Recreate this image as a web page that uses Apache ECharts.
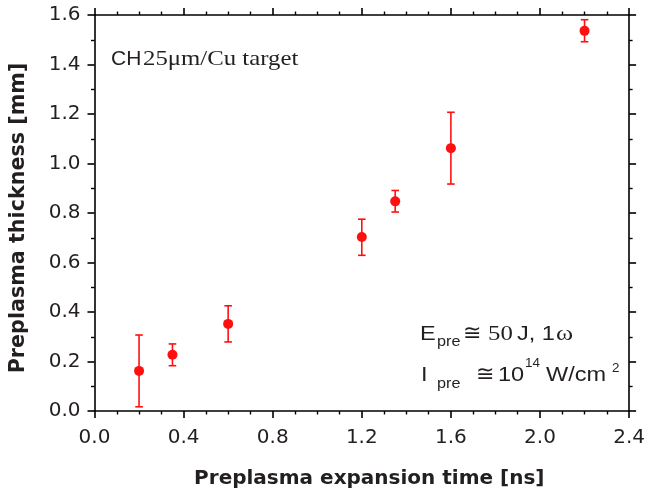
<!DOCTYPE html>
<html><head><meta charset="utf-8">
<script src="https://cdn.jsdelivr.net/npm/echarts@6/dist/echarts.min.js"></script>
<style>html,body{margin:0;padding:0;background:#fff}#c{width:648px;height:494px}</style>
</head><body><div id="c"></div>
<script>
// Data
const times = [0.2, 0.35, 0.6, 1.2, 1.35, 1.6, 2.2];
const thickness = [0.162, 0.227, 0.352, 0.703, 0.847, 1.062, 1.536];
const errLow = [0.017, 0.183, 0.279, 0.629, 0.804, 0.917, 1.492];
const errHigh = [0.307, 0.271, 0.425, 0.775, 0.891, 1.207, 1.581];
const xTicks = ['0.0','0.4','0.8','1.2','1.6','2.0','2.4'];
const yTicks = ['0.0','0.2','0.4','0.6','0.8','1.0','1.2','1.4','1.6'];

const SANS = '"Liberation Sans", Arial, sans-serif';
const SERIF = '"Liberation Serif", "Times New Roman", serif';
const DJ = '"DejaVu Sans", sans-serif';
const TXT = '#231f20';
const RED = '#ff1010';

const chart = echarts.init(document.getElementById('c'), null, {renderer:'canvas'});

const points = times.map((t,i)=>[t, thickness[i]]);
const errs = times.map((t,i)=>[t, errLow[i], errHigh[i]]);

function axisCommon(showLabels, split){
  return {
    axisLine:{show:true, onZero:false, lineStyle:{color:'#000', width:1.6}},
    axisTick:{show:true, inside:false, length:7, lineStyle:{color:'#000', width:1.6}},
    minorTick:{show:true, splitNumber:split, length:3.5, lineStyle:{color:'#000', width:1.4}},
    splitLine:{show:false},
    minorSplitLine:{show:false},
    axisLabel:{show:showLabels}
  };
}

function t(x, baseline, s, size, family, sx){
  return {type:'text', x:x, y:baseline - 0.27*size, scaleX:sx||1, scaleY:1,
    style:{text:s, fill:TXT, fontSize:size, fontFamily:family, verticalAlign:'middle', align:'left'}};
}
const SXS = 1.12, SXR = 1.18;

const option = {
  animation:false,
  backgroundColor:'#fff',
  grid:{left:94.5, right:15, top:15, bottom:82, containLabel:false},
  xAxis:[
    Object.assign(axisCommon(true, 4), {
      type:'value', min:0, max:2.4, interval:0.4, position:'bottom',
      axisLabel:{show:true, color:TXT, fontSize:20, fontFamily:DJ, margin:17,
        formatter:(v)=>{const i=Math.round(v/0.4); return xTicks[i]!==undefined?xTicks[i]:'';}},
      name:'Preplasma expansion time [ns]', nameLocation:'middle', nameGap:58,
      nameTextStyle:{color:TXT, fontSize:20, fontWeight:'bold', fontFamily:DJ, padding:[0,0,0,15]}
    }),
    Object.assign(axisCommon(false, 4), {
      type:'value', min:0, max:2.4, interval:0.4, position:'top'
    })
  ],
  yAxis:[
    Object.assign(axisCommon(true, 2), {
      type:'value', min:0, max:1.6, interval:0.2, position:'left',
      axisLabel:{show:true, color:TXT, fontSize:20, fontFamily:DJ, margin:14,
        formatter:(v)=>{const i=Math.round(v/0.2); return yTicks[i]!==undefined?yTicks[i]:'';}},
      name:'Preplasma thickness [mm]', nameLocation:'middle', nameGap:65, nameRotate:90,
      nameTextStyle:{color:TXT, fontSize:20.7, fontWeight:'bold', fontFamily:DJ, padding:[0,10,0,0]}
    }),
    Object.assign(axisCommon(false, 2), {
      type:'value', min:0, max:1.6, interval:0.2, position:'right'
    })
  ],
  series:[
    {
      type:'custom', xAxisIndex:0, yAxisIndex:0, data:errs, z:3,
      renderItem:function(params, api){
        const x = api.value(0);
        const lo = api.coord([x, api.value(1)]);
        const hi = api.coord([x, api.value(2)]);
        const cw = 3.8;
        const st = {stroke:RED, lineWidth:1.6};
        return {type:'group', children:[
          {type:'line', shape:{x1:lo[0], y1:lo[1], x2:hi[0], y2:hi[1]}, style:st},
          {type:'line', shape:{x1:lo[0]-cw, y1:lo[1], x2:lo[0]+cw, y2:lo[1]}, style:st},
          {type:'line', shape:{x1:hi[0]-cw, y1:hi[1], x2:hi[0]+cw, y2:hi[1]}, style:st}
        ]};
      }
    },
    {
      type:'scatter', xAxisIndex:0, yAxisIndex:0, data:points, symbol:'circle', symbolSize:10, z:4,
      itemStyle:{color:RED, opacity:1}
    }
  ],
  graphic:[
    // CH25μm/Cu target
    t(111, 65, 'CH', 20, SANS, 1.05),
    t(143, 65, '25μm/Cu target', 21, SERIF, SXR),
    // E_pre ≅ 50 J, 1ω
    t(420, 340, 'E', 21, SANS, SXS),
    t(437, 346, 'pre', 14.5, SANS, SXS),
    t(463, 340, '≅', 22, SERIF, 1),
    t(488, 340, '50', 21, SERIF, SXR),
    t(517, 340, 'J, 1', 21, SANS, SXS),
    t(556, 340, 'ω', 22, SERIF, SXR),
    // I_pre ≅ 10^14 W/cm^2
    t(421, 381, 'I', 21, SANS, SXS),
    t(437, 388, 'pre', 14.5, SANS, SXS),
    t(476, 381, '≅', 22, SERIF, 1),
    t(498, 381, '10', 21, SANS, SXS),
    t(525, 367, '14', 12, SANS, SXS),
    t(546, 381, 'W/cm', 21, SANS, SXS),
    t(612, 372, '2', 12, SANS, SXS)
  ]
};
chart.setOption(option);
</script>
</body></html>
